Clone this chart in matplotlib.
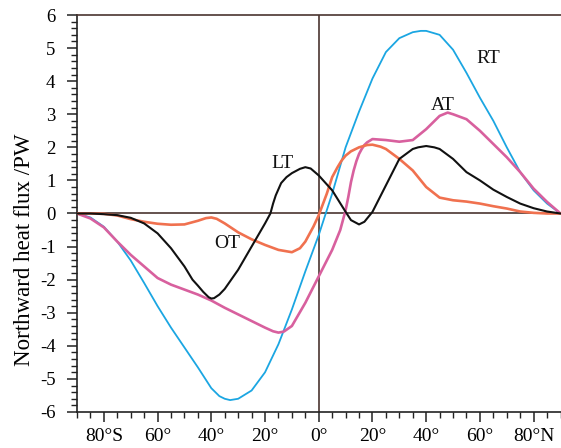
"""northward heat flux by latitude
"""

import numpy as np
import matplotlib
matplotlib.use('Agg')
import matplotlib.pyplot as plt
from matplotlib.ticker import MultipleLocator

# RT: total (radiation) transport
rt_lat = [-90, -85, -80, -75, -70, -65, -60, -55, -50, -45, -40, -37, -35, -33, -30, -25, -20,
          -15, -10, -5, 0, 5, 10, 15, 20, 25, 30, 35, 38, 40, 45, 50, 55, 60, 65, 70, 75, 80, 85, 90]
rt_val = [0, -0.12, -0.4, -0.85, -1.42, -2.1, -2.8, -3.45, -4.05, -4.65, -5.28, -5.52, -5.6, -5.64,
          -5.6, -5.35, -4.8, -3.95, -2.9, -1.75, -0.65, 0.6, 2.0, 3.08, 4.08, 4.88, 5.3, 5.48, 5.52,
          5.52, 5.4, 4.95, 4.25, 3.5, 2.8, 2.0, 1.25, 0.7, 0.3, 0]

# AT: atmospheric transport
at_lat = [-90, -85, -80, -75, -70, -65, -60, -55, -50, -45, -40, -35, -30, -25, -20, -17, -15, -13,
          -10, -5, 0, 5, 8, 9, 10, 11, 12, 13, 14, 15, 16, 17, 18, 20, 25, 30, 35, 40, 45, 48, 50,
          55, 60, 65, 70, 75, 80, 85, 90]
at_val = [0, -0.15, -0.42, -0.85, -1.25, -1.6, -1.95, -2.15, -2.3, -2.45, -2.63, -2.85, -3.05,
          -3.25, -3.45, -3.56, -3.6, -3.57, -3.4, -2.7, -1.9, -1.1, -0.5, -0.2, 0.1, 0.5, 0.95,
          1.3, 1.58, 1.8, 1.95, 2.07, 2.15, 2.25, 2.22, 2.17, 2.22, 2.55, 2.95, 3.05, 3.0, 2.85,
          2.5, 2.1, 1.7, 1.25, 0.75, 0.35, 0]

# LT: latent heat transport
lt_lat = [-90, -85, -80, -75, -70, -65, -60, -55, -50, -47, -45, -43, -41, -40, -39, -37, -35,
          -30, -25, -20, -18, -17, -16, -14, -12, -10, -7, -5, -3, 0, 5, 10, 12, 15, 17, 20, 25,
          30, 35, 37, 40, 43, 45, 50, 55, 60, 65, 70, 75, 80, 85, 90]
lt_val = [0, 0, -0.02, -0.05, -0.13, -0.3, -0.6, -1.05, -1.6, -2.0, -2.18, -2.37, -2.53, -2.57,
          -2.56, -2.45, -2.28, -1.7, -1.0, -0.3, 0.0, 0.3, 0.55, 0.92, 1.1, 1.22, 1.35, 1.4, 1.36,
          1.15, 0.7, 0.05, -0.2, -0.33, -0.25, 0.05, 0.85, 1.65, 1.95, 2.0, 2.04, 2.0, 1.95, 1.65,
          1.25, 1.0, 0.72, 0.5, 0.3, 0.16, 0.06, 0]

# OT: oceanic transport
ot_lat = [-90, -85, -80, -75, -70, -65, -60, -55, -50, -45, -42, -40, -38, -35, -30, -25, -20,
          -15, -10, -7, -5, -2, 0, 3, 5, 7, 8.5, 10, 12, 15, 18, 20, 23, 25, 30, 35, 40, 45, 50,
          55, 60, 65, 70, 75, 80, 85, 90]
ot_val = [0, 0, -0.01, -0.06, -0.17, -0.25, -0.31, -0.34, -0.33, -0.22, -0.14, -0.12, -0.16,
          -0.3, -0.57, -0.78, -0.95, -1.1, -1.17, -1.05, -0.85, -0.4, -0.05, 0.6, 1.1, 1.4, 1.6,
          1.75, 1.88, 2.0, 2.07, 2.08, 2.02, 1.95, 1.65, 1.3, 0.8, 0.48, 0.4, 0.36, 0.3, 0.22,
          0.15, 0.06, 0.02, 0, 0]

xtick_pos = [-80, -60, -40, -20, 0, 20, 40, 60, 80]
xtick_labels = ['80°S', '60°', '40°', '20°', '0°', '20°', '40°', '60°', '80°N']

plt.rcParams['font.family'] = ['Liberation Serif', 'DejaVu Serif']
plt.rcParams['axes.unicode_minus'] = False

fig = plt.figure(figsize=(5.61, 4.48), dpi=100)
ax = fig.add_axes([77 / 561, 36 / 448, 483.5 / 561, 397 / 448])

spine_col = '#4a3530'
ax.axhline(0, color=spine_col, lw=1.2, zorder=1)
ax.axvline(0, color=spine_col, lw=1.2, zorder=1)

line_kw = dict(solid_joinstyle='round', solid_capstyle='round')
ax.plot(rt_lat, rt_val, color='#1ba6e2', lw=1.3, zorder=3, **line_kw)
ax.plot(at_lat, at_val, color='#d8609e', lw=1.9, zorder=3, **line_kw)
ax.plot(ot_lat, ot_val, color='#f0714f', lw=1.9, zorder=3, **line_kw)
ax.plot(lt_lat, lt_val, color='#111111', lw=1.5, zorder=4, **line_kw)

label_kw = dict(fontsize=14, ha='center', va='center', color='#111111')
ax.text(63, 4.7, 'RT', **label_kw)
ax.text(46, 3.27, 'AT', **label_kw)
ax.text(-13.4, 1.5, 'LT', **label_kw)
ax.text(-34, -0.9, 'OT', **label_kw)

ax.set_xlim(-90, 90)
ax.set_ylim(-6, 6)
ax.set_xticks(xtick_pos)
ax.set_xticklabels(xtick_labels)
ax.set_yticks(range(-6, 7))
ax.xaxis.set_minor_locator(MultipleLocator(5))
ax.yaxis.set_minor_locator(MultipleLocator(0.2))
ax.tick_params(which='major', direction='out', length=7.5, width=1.1, color='#222222',
               top=False, right=False)
ax.tick_params(which='minor', direction='out', length=4, width=1.0, color='#222222',
               top=False, right=False)
ax.tick_params(axis='y', which='major', pad=8, labelsize=13.5)
ax.tick_params(axis='x', which='major', pad=4, labelsize=14)

ax.spines['right'].set_visible(False)
ax.spines['top'].set_color(spine_col)
ax.spines['top'].set_linewidth(1.2)
for side in ['left', 'bottom']:
    ax.spines[side].set_color('#222222')
    ax.spines[side].set_linewidth(1.2)

fig.text(25 / 561, 1 - 250 / 448, 'Northward heat flux /PW', fontsize=16.5,
         rotation=90, ha='center', va='center')

fig.savefig('out.png', dpi=100)
